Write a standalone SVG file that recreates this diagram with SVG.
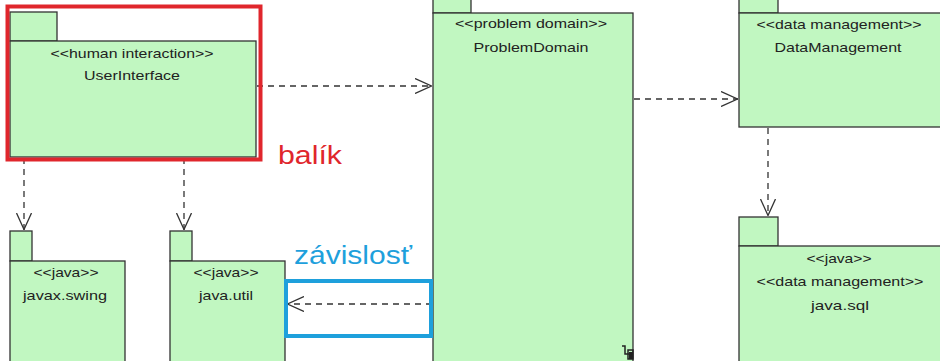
<svg xmlns="http://www.w3.org/2000/svg" width="940" height="361" viewBox="0 0 940 361">
<style>
.pk{fill:#c1f7c1;stroke:#333;stroke-width:1.3}
.t{font-family:"Liberation Sans",Arial,sans-serif;font-size:13.5px;fill:#222;text-anchor:middle}
.dep{fill:none;stroke:#333;stroke-width:1.3;stroke-dasharray:6,5}
.big{font-family:"Liberation Sans",Arial,sans-serif;font-size:26px}
</style>
<defs>
<marker id="open" viewBox="0 0 17 16" refX="17" refY="8" markerWidth="17" markerHeight="16" markerUnits="userSpaceOnUse" orient="auto">
<path d="M0,0.5 L16.5,8 L0,15.5" fill="none" stroke="#333" stroke-width="1.3"/>
</marker>
</defs>
<rect width="940" height="361" fill="#fff"/>
<g id="UserInterface">
<rect class="pk" x="10" y="12" width="47" height="29"/>
<rect class="pk" x="10" y="41" width="246" height="116"/>
<text class="t" x="132" y="58" textLength="163" lengthAdjust="spacingAndGlyphs">&lt;&lt;human interaction&gt;&gt;</text>
<text class="t" x="132" y="80" textLength="96" lengthAdjust="spacingAndGlyphs">UserInterface</text>
</g>
<g id="ProblemDomain">
<rect class="pk" x="433" y="-2" width="38" height="15"/>
<rect class="pk" x="433" y="13" width="200" height="350"/>
<text class="t" x="531" y="28" textLength="152" lengthAdjust="spacingAndGlyphs">&lt;&lt;problem domain&gt;&gt;</text>
<text class="t" x="531" y="52" textLength="115" lengthAdjust="spacingAndGlyphs">ProblemDomain</text>
<path d="M622,346 h3 v8 h4 M625,354 v-4 M628,350 h5 v9 h-5z" fill="none" stroke="#222" stroke-width="1.5"/>
<rect x="629" y="352" width="4" height="7" fill="#222"/>
</g>
<g id="DataManagement">
<rect class="pk" x="739" y="-2" width="39" height="15"/>
<rect class="pk" x="739" y="13" width="205" height="114"/>
<text class="t" x="839" y="29" textLength="165" lengthAdjust="spacingAndGlyphs">&lt;&lt;data management&gt;&gt;</text>
<text class="t" x="838" y="52" textLength="127" lengthAdjust="spacingAndGlyphs">DataManagement</text>
</g>
<g id="javax.swing">
<rect class="pk" x="10" y="231" width="22" height="30"/>
<rect class="pk" x="10" y="261" width="115" height="104"/>
<text class="t" x="66" y="277" textLength="65" lengthAdjust="spacingAndGlyphs">&lt;&lt;java&gt;&gt;</text>
<text class="t" x="65" y="300" textLength="84" lengthAdjust="spacingAndGlyphs">javax.swing</text>
</g>
<g id="java.util">
<rect class="pk" x="170" y="231" width="22" height="30"/>
<rect class="pk" x="170" y="261" width="115" height="104"/>
<text class="t" x="226" y="277" textLength="65" lengthAdjust="spacingAndGlyphs">&lt;&lt;java&gt;&gt;</text>
<text class="t" x="226" y="300" textLength="54" lengthAdjust="spacingAndGlyphs">java.util</text>
</g>
<g id="java.sql">
<rect class="pk" x="739" y="217" width="39" height="29"/>
<rect class="pk" x="739" y="246" width="205" height="119"/>
<text class="t" x="839" y="263" textLength="65" lengthAdjust="spacingAndGlyphs">&lt;&lt;java&gt;&gt;</text>
<text class="t" x="840" y="286" textLength="167" lengthAdjust="spacingAndGlyphs">&lt;&lt;data management&gt;&gt;</text>
<text class="t" x="840" y="310" textLength="58" lengthAdjust="spacingAndGlyphs">java.sql</text>
</g>
<g id="connectors">
<line class="dep" x1="257" y1="86" x2="432" y2="86" marker-end="url(#open)"/>
<line class="dep" x1="634" y1="99" x2="738" y2="99" marker-end="url(#open)"/>
<line class="dep" x1="24" y1="158" x2="24" y2="230" marker-end="url(#open)"/>
<line class="dep" x1="184" y1="158" x2="184" y2="230" marker-end="url(#open)"/>
<line class="dep" x1="768" y1="128" x2="768" y2="216" marker-end="url(#open)"/>
<line class="dep" x1="432" y1="304" x2="287" y2="304" marker-end="url(#open)"/>
</g>
<g id="annotations">
<rect x="7.5" y="6.5" width="253" height="153" fill="none" stroke="#e0262c" stroke-width="4"/>
<text class="big" x="278" y="164" fill="#e0262c" textLength="64" lengthAdjust="spacingAndGlyphs">balík</text>
<rect x="286" y="281" width="145" height="55" fill="none" stroke="#1ea0dc" stroke-width="4"/>
<text class="big" x="294" y="264" fill="#1ea0dc" textLength="118" lengthAdjust="spacingAndGlyphs">závislosť</text>
</g>
</svg>
